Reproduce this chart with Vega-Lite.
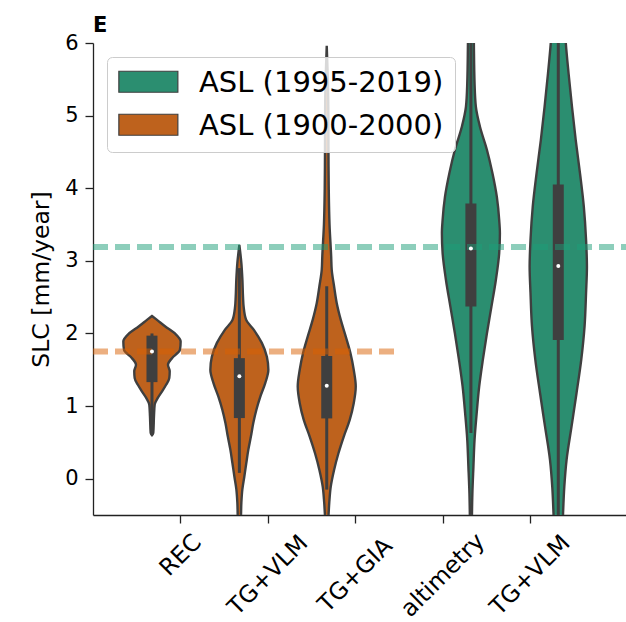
{
  "$schema": "https://vega.github.io/schema/vega-lite/v6.json",
  "width": 533,
  "height": 472,
  "autosize": {"type": "none"},
  "padding": {"left": 93, "top": 43, "right": 0, "bottom": 107},
  "background": "white",
  "title": {"text": "E", "anchor": "start", "frame": "group", "fontSize": 21, "fontWeight": "bold", "font": "DejaVu Sans", "color": "black", "offset": -4},
  "config": {
    "view": {"stroke": null},
    "font": "DejaVu Sans",
    "axis": {"labelFont": "DejaVu Sans", "titleFont": "DejaVu Sans", "labelColor": "black", "titleColor": "black", "domainColor": "#222222", "tickColor": "#222222", "domainWidth": 1.3, "tickWidth": 1.3, "grid": false},
    "legend": {"labelFont": "DejaVu Sans"}
  },
  "datasets": {
    "violins": [
      {"violin": "REC", "period": "ASL (1900-2000)", "v": 2.24, "lo": -0.325, "hi": -0.325},
      {"violin": "REC", "period": "ASL (1900-2000)", "v": 2.19, "lo": -0.379, "hi": -0.271},
      {"violin": "REC", "period": "ASL (1900-2000)", "v": 2.10, "lo": -0.474, "hi": -0.176},
      {"violin": "REC", "period": "ASL (1900-2000)", "v": 2.00, "lo": -0.588, "hi": -0.062},
      {"violin": "REC", "period": "ASL (1900-2000)", "v": 1.89, "lo": -0.653, "hi": 0.003},
      {"violin": "REC", "period": "ASL (1900-2000)", "v": 1.775, "lo": -0.645, "hi": -0.005},
      {"violin": "REC", "period": "ASL (1900-2000)", "v": 1.66, "lo": -0.554, "hi": -0.096},
      {"violin": "REC", "period": "ASL (1900-2000)", "v": 1.57, "lo": -0.508, "hi": -0.142},
      {"violin": "REC", "period": "ASL (1900-2000)", "v": 1.48, "lo": -0.528, "hi": -0.122},
      {"violin": "REC", "period": "ASL (1900-2000)", "v": 1.385, "lo": -0.523, "hi": -0.127},
      {"violin": "REC", "period": "ASL (1900-2000)", "v": 1.29, "lo": -0.485, "hi": -0.165},
      {"violin": "REC", "period": "ASL (1900-2000)", "v": 1.20, "lo": -0.439, "hi": -0.211},
      {"violin": "REC", "period": "ASL (1900-2000)", "v": 1.11, "lo": -0.390, "hi": -0.260},
      {"violin": "REC", "period": "ASL (1900-2000)", "v": 1.02, "lo": -0.356, "hi": -0.294},
      {"violin": "REC", "period": "ASL (1900-2000)", "v": 0.86, "lo": -0.348, "hi": -0.302},
      {"violin": "REC", "period": "ASL (1900-2000)", "v": 0.63, "lo": -0.340, "hi": -0.310},
      {"violin": "REC", "period": "ASL (1900-2000)", "v": 0.60, "lo": -0.325, "hi": -0.325},

      {"violin": "TGVLM_o", "period": "ASL (1900-2000)", "v": 3.22, "lo": 0.675, "hi": 0.675},
      {"violin": "TGVLM_o", "period": "ASL (1900-2000)", "v": 2.97, "lo": 0.652, "hi": 0.698},
      {"violin": "TGVLM_o", "period": "ASL (1900-2000)", "v": 2.74, "lo": 0.640, "hi": 0.710},
      {"violin": "TGVLM_o", "period": "ASL (1900-2000)", "v": 2.50, "lo": 0.633, "hi": 0.717},
      {"violin": "TGVLM_o", "period": "ASL (1900-2000)", "v": 2.37, "lo": 0.626, "hi": 0.724},
      {"violin": "TGVLM_o", "period": "ASL (1900-2000)", "v": 2.19, "lo": 0.598, "hi": 0.752},
      {"violin": "TGVLM_o", "period": "ASL (1900-2000)", "v": 2.05, "lo": 0.509, "hi": 0.841},
      {"violin": "TGVLM_o", "period": "ASL (1900-2000)", "v": 1.87, "lo": 0.418, "hi": 0.932},
      {"violin": "TGVLM_o", "period": "ASL (1900-2000)", "v": 1.68, "lo": 0.360, "hi": 0.990},
      {"violin": "TGVLM_o", "period": "ASL (1900-2000)", "v": 1.50, "lo": 0.343, "hi": 1.007},
      {"violin": "TGVLM_o", "period": "ASL (1900-2000)", "v": 1.32, "lo": 0.378, "hi": 0.972},
      {"violin": "TGVLM_o", "period": "ASL (1900-2000)", "v": 1.13, "lo": 0.435, "hi": 0.915},
      {"violin": "TGVLM_o", "period": "ASL (1900-2000)", "v": 0.95, "lo": 0.480, "hi": 0.870},
      {"violin": "TGVLM_o", "period": "ASL (1900-2000)", "v": 0.77, "lo": 0.515, "hi": 0.835},
      {"violin": "TGVLM_o", "period": "ASL (1900-2000)", "v": 0.58, "lo": 0.543, "hi": 0.807},
      {"violin": "TGVLM_o", "period": "ASL (1900-2000)", "v": 0.40, "lo": 0.572, "hi": 0.778},
      {"violin": "TGVLM_o", "period": "ASL (1900-2000)", "v": 0.22, "lo": 0.595, "hi": 0.755},
      {"violin": "TGVLM_o", "period": "ASL (1900-2000)", "v": 0.03, "lo": 0.618, "hi": 0.732},
      {"violin": "TGVLM_o", "period": "ASL (1900-2000)", "v": -0.15, "lo": 0.641, "hi": 0.709},
      {"violin": "TGVLM_o", "period": "ASL (1900-2000)", "v": -0.33, "lo": 0.652, "hi": 0.698},
      {"violin": "TGVLM_o", "period": "ASL (1900-2000)", "v": -0.55, "lo": 0.658, "hi": 0.692},
      {"violin": "TGVLM_o", "period": "ASL (1900-2000)", "v": -0.70, "lo": 0.675, "hi": 0.675},

      {"violin": "TGGIA", "period": "ASL (1900-2000)", "v": 5.96, "lo": 1.675, "hi": 1.675},
      {"violin": "TGGIA", "period": "ASL (1900-2000)", "v": 5.5, "lo": 1.662, "hi": 1.688},
      {"violin": "TGGIA", "period": "ASL (1900-2000)", "v": 5.0, "lo": 1.656, "hi": 1.694},
      {"violin": "TGGIA", "period": "ASL (1900-2000)", "v": 4.5, "lo": 1.655, "hi": 1.695},
      {"violin": "TGGIA", "period": "ASL (1900-2000)", "v": 4.0, "lo": 1.652, "hi": 1.698},
      {"violin": "TGGIA", "period": "ASL (1900-2000)", "v": 3.5, "lo": 1.643, "hi": 1.707},
      {"violin": "TGGIA", "period": "ASL (1900-2000)", "v": 3.06, "lo": 1.624, "hi": 1.726},
      {"violin": "TGGIA", "period": "ASL (1900-2000)", "v": 2.88, "lo": 1.618, "hi": 1.732},
      {"violin": "TGGIA", "period": "ASL (1900-2000)", "v": 2.65, "lo": 1.591, "hi": 1.759},
      {"violin": "TGGIA", "period": "ASL (1900-2000)", "v": 2.42, "lo": 1.561, "hi": 1.789},
      {"violin": "TGGIA", "period": "ASL (1900-2000)", "v": 2.19, "lo": 1.515, "hi": 1.835},
      {"violin": "TGGIA", "period": "ASL (1900-2000)", "v": 1.96, "lo": 1.458, "hi": 1.892},
      {"violin": "TGGIA", "period": "ASL (1900-2000)", "v": 1.73, "lo": 1.404, "hi": 1.946},
      {"violin": "TGGIA", "period": "ASL (1900-2000)", "v": 1.50, "lo": 1.366, "hi": 1.984},
      {"violin": "TGGIA", "period": "ASL (1900-2000)", "v": 1.27, "lo": 1.343, "hi": 2.007},
      {"violin": "TGGIA", "period": "ASL (1900-2000)", "v": 1.04, "lo": 1.366, "hi": 1.984},
      {"violin": "TGGIA", "period": "ASL (1900-2000)", "v": 0.81, "lo": 1.412, "hi": 1.938},
      {"violin": "TGGIA", "period": "ASL (1900-2000)", "v": 0.58, "lo": 1.480, "hi": 1.870},
      {"violin": "TGGIA", "period": "ASL (1900-2000)", "v": 0.35, "lo": 1.541, "hi": 1.809},
      {"violin": "TGGIA", "period": "ASL (1900-2000)", "v": 0.12, "lo": 1.591, "hi": 1.759},
      {"violin": "TGGIA", "period": "ASL (1900-2000)", "v": -0.11, "lo": 1.629, "hi": 1.721},
      {"violin": "TGGIA", "period": "ASL (1900-2000)", "v": -0.33, "lo": 1.646, "hi": 1.704},
      {"violin": "TGGIA", "period": "ASL (1900-2000)", "v": -0.55, "lo": 1.658, "hi": 1.692},
      {"violin": "TGGIA", "period": "ASL (1900-2000)", "v": -0.70, "lo": 1.675, "hi": 1.675},

      {"violin": "ALT", "period": "ASL (1995-2019)", "v": 6.5, "lo": 3.296, "hi": 3.354},
      {"violin": "ALT", "period": "ASL (1995-2019)", "v": 6.0, "lo": 3.291, "hi": 3.359},
      {"violin": "ALT", "period": "ASL (1995-2019)", "v": 5.44, "lo": 3.283, "hi": 3.367},
      {"violin": "ALT", "period": "ASL (1995-2019)", "v": 5.12, "lo": 3.268, "hi": 3.382},
      {"violin": "ALT", "period": "ASL (1995-2019)", "v": 4.85, "lo": 3.222, "hi": 3.428},
      {"violin": "ALT", "period": "ASL (1995-2019)", "v": 4.53, "lo": 3.142, "hi": 3.508},
      {"violin": "ALT", "period": "ASL (1995-2019)", "v": 4.21, "lo": 3.079, "hi": 3.571},
      {"violin": "ALT", "period": "ASL (1995-2019)", "v": 3.88, "lo": 3.028, "hi": 3.622},
      {"violin": "ALT", "period": "ASL (1995-2019)", "v": 3.56, "lo": 3.001, "hi": 3.649},
      {"violin": "ALT", "period": "ASL (1995-2019)", "v": 3.38, "lo": 2.993, "hi": 3.657},
      {"violin": "ALT", "period": "ASL (1995-2019)", "v": 3.11, "lo": 3.001, "hi": 3.649},
      {"violin": "ALT", "period": "ASL (1995-2019)", "v": 2.74, "lo": 3.039, "hi": 3.611},
      {"violin": "ALT", "period": "ASL (1995-2019)", "v": 2.37, "lo": 3.090, "hi": 3.560},
      {"violin": "ALT", "period": "ASL (1995-2019)", "v": 2.00, "lo": 3.142, "hi": 3.508},
      {"violin": "ALT", "period": "ASL (1995-2019)", "v": 1.64, "lo": 3.188, "hi": 3.462},
      {"violin": "ALT", "period": "ASL (1995-2019)", "v": 1.27, "lo": 3.230, "hi": 3.420},
      {"violin": "ALT", "period": "ASL (1995-2019)", "v": 0.90, "lo": 3.259, "hi": 3.391},
      {"violin": "ALT", "period": "ASL (1995-2019)", "v": 0.54, "lo": 3.283, "hi": 3.367},
      {"violin": "ALT", "period": "ASL (1995-2019)", "v": 0.17, "lo": 3.296, "hi": 3.354},
      {"violin": "ALT", "period": "ASL (1995-2019)", "v": -0.2, "lo": 3.308, "hi": 3.342},
      {"violin": "ALT", "period": "ASL (1995-2019)", "v": -0.6, "lo": 3.314, "hi": 3.336},

      {"violin": "TGVLM_g", "period": "ASL (1995-2019)", "v": 6.5, "lo": 4.262, "hi": 4.388},
      {"violin": "TGVLM_g", "period": "ASL (1995-2019)", "v": 6.0, "lo": 4.239, "hi": 4.411},
      {"violin": "TGVLM_g", "period": "ASL (1995-2019)", "v": 5.58, "lo": 4.207, "hi": 4.443},
      {"violin": "TGVLM_g", "period": "ASL (1995-2019)", "v": 5.12, "lo": 4.168, "hi": 4.482},
      {"violin": "TGVLM_g", "period": "ASL (1995-2019)", "v": 4.66, "lo": 4.125, "hi": 4.525},
      {"violin": "TGVLM_g", "period": "ASL (1995-2019)", "v": 4.21, "lo": 4.077, "hi": 4.573},
      {"violin": "TGVLM_g", "period": "ASL (1995-2019)", "v": 3.75, "lo": 4.033, "hi": 4.617},
      {"violin": "TGVLM_g", "period": "ASL (1995-2019)", "v": 3.29, "lo": 4.007, "hi": 4.643},
      {"violin": "TGVLM_g", "period": "ASL (1995-2019)", "v": 2.92, "lo": 3.997, "hi": 4.653},
      {"violin": "TGVLM_g", "period": "ASL (1995-2019)", "v": 2.56, "lo": 4.007, "hi": 4.643},
      {"violin": "TGVLM_g", "period": "ASL (1995-2019)", "v": 2.10, "lo": 4.024, "hi": 4.626},
      {"violin": "TGVLM_g", "period": "ASL (1995-2019)", "v": 1.64, "lo": 4.062, "hi": 4.588},
      {"violin": "TGVLM_g", "period": "ASL (1995-2019)", "v": 1.18, "lo": 4.116, "hi": 4.534},
      {"violin": "TGVLM_g", "period": "ASL (1995-2019)", "v": 0.72, "lo": 4.173, "hi": 4.477},
      {"violin": "TGVLM_g", "period": "ASL (1995-2019)", "v": 0.26, "lo": 4.230, "hi": 4.420},
      {"violin": "TGVLM_g", "period": "ASL (1995-2019)", "v": -0.11, "lo": 4.256, "hi": 4.394},
      {"violin": "TGVLM_g", "period": "ASL (1995-2019)", "v": -0.47, "lo": 4.270, "hi": 4.380},
      {"violin": "TGVLM_g", "period": "ASL (1995-2019)", "v": -0.6, "lo": 4.274, "hi": 4.376}
    ],
    "boxes": [
      {"violin": "REC", "c": -0.325, "q1": 1.33, "q3": 1.97, "med": 1.75, "wlo": 0.60, "whi": 2.0},
      {"violin": "TGVLM_o", "c": 0.675, "q1": 0.835, "q3": 1.66, "med": 1.41, "wlo": 0.08, "whi": 2.9},
      {"violin": "TGGIA", "c": 1.675, "q1": 0.83, "q3": 1.69, "med": 1.28, "wlo": -0.15, "whi": 2.65},
      {"violin": "ALT", "c": 3.325, "q1": 2.37, "q3": 3.79, "med": 3.17, "wlo": 0.63, "whi": 6.5},
      {"violin": "TGVLM_g", "c": 4.325, "q1": 1.91, "q3": 4.05, "med": 2.93, "wlo": -0.6, "whi": 6.5}
    ]
  },
  "layer": [
    {
      "data": {"name": "violins"},
      "mark": {"type": "area", "orient": "horizontal", "clip": true, "stroke": "#3f3f3f", "strokeWidth": 2.4, "opacity": 1, "fillOpacity": 1, "interpolate": "monotone"},
      "encoding": {
        "y": {"field": "v", "type": "quantitative", "scale": {"domain": [-0.5, 6], "nice": false, "zero": false},
          "axis": {"values": [0, 1, 2, 3, 4, 5, 6], "format": "d", "title": "SLC [mm/year]", "titleFontSize": 23.5, "titleFontWeight": "normal", "titlePadding": 11, "labelFontSize": 21, "labelPadding": 7, "tickSize": 8}},
        "x": {"field": "lo", "type": "quantitative", "scale": {"domain": [-1, 5.1], "nice": false, "zero": false},
          "axis": {"values": [0, 1, 2, 3, 4], "title": null, "labelExpr": "['REC','TG+VLM','TG+GIA','altimetry','TG+VLM'][datum.value]", "labelAngle": -45, "labelAlign": "center", "labelBaseline": "middle", "labelFontSize": 23.5, "tickSize": 8, "labelOverlap": false, "labelBound": false, "labelFlush": false,
            "labelPadding": {"condition": {"test": "datum.value == 0", "value": 32}, "value": 52}}},
        "x2": {"field": "hi"},
        "detail": {"field": "violin"},
        "color": {"field": "period", "type": "nominal",
          "scale": {"domain": ["ASL (1995-2019)", "ASL (1900-2000)"], "range": ["#2b8e70", "#be621d"]},
          "legend": {"title": null, "orient": "none", "legendX": 14, "legendY": 14, "labelFontSize": 29, "labelColor": "black", "labelLimit": 400,
            "symbolType": "M-1.30,-1.07H4.32V0.93H-1.30Z", "symbolSize": 441, "symbolStrokeColor": "#3f3f3f", "symbolStrokeWidth": 1.2, "symbolOpacity": 1,
            "fillColor": "rgba(255,255,255,0.8)", "strokeColor": "#cccccc", "cornerRadius": 5, "padding": 11, "labelOffset": 52, "rowPadding": 13}}
      }
    },
    {
      "data": {"name": "boxes"},
      "mark": {"type": "rule", "clip": true, "color": "#3f3f3f", "strokeWidth": 3},
      "encoding": {
        "x": {"field": "c", "type": "quantitative", "scale": {"domain": [-1, 5.1], "nice": false, "zero": false}},
        "y": {"field": "wlo", "type": "quantitative", "scale": {"domain": [-0.5, 6], "nice": false, "zero": false}},
        "y2": {"field": "whi"}
      }
    },
    {
      "data": {"name": "boxes"},
      "mark": {"type": "rule", "clip": true, "color": "#3f3f3f", "strokeWidth": 11, "strokeCap": "butt"},
      "encoding": {
        "x": {"field": "c", "type": "quantitative", "scale": {"domain": [-1, 5.1], "nice": false, "zero": false}},
        "y": {"field": "q1", "type": "quantitative", "scale": {"domain": [-0.5, 6], "nice": false, "zero": false}},
        "y2": {"field": "q3"}
      }
    },
    {
      "data": {"values": [{"level": 3.19, "from": -1, "to": 5.1}]},
      "mark": {"type": "rule", "clip": true, "color": "#1b9e77", "opacity": 0.5, "strokeWidth": 6, "strokeDash": [15, 7]},
      "encoding": {
        "x": {"field": "from", "type": "quantitative", "scale": {"domain": [-1, 5.1], "nice": false, "zero": false}},
        "x2": {"field": "to"},
        "y": {"field": "level", "type": "quantitative", "scale": {"domain": [-0.5, 6], "nice": false, "zero": false}}
      }
    },
    {
      "data": {"values": [{"level": 1.75, "from": -1, "to": 2.5}]},
      "mark": {"type": "rule", "clip": true, "color": "#d95f02", "opacity": 0.5, "strokeWidth": 6, "strokeDash": [15, 7]},
      "encoding": {
        "x": {"field": "from", "type": "quantitative", "scale": {"domain": [-1, 5.1], "nice": false, "zero": false}},
        "x2": {"field": "to"},
        "y": {"field": "level", "type": "quantitative", "scale": {"domain": [-0.5, 6], "nice": false, "zero": false}}
      }
    },
    {
      "data": {"name": "boxes"},
      "mark": {"type": "point", "filled": true, "color": "white", "opacity": 1, "size": 16, "clip": true},
      "encoding": {
        "x": {"field": "c", "type": "quantitative", "scale": {"domain": [-1, 5.1], "nice": false, "zero": false}},
        "y": {"field": "med", "type": "quantitative", "scale": {"domain": [-0.5, 6], "nice": false, "zero": false}}
      }
    }
  ]
}
